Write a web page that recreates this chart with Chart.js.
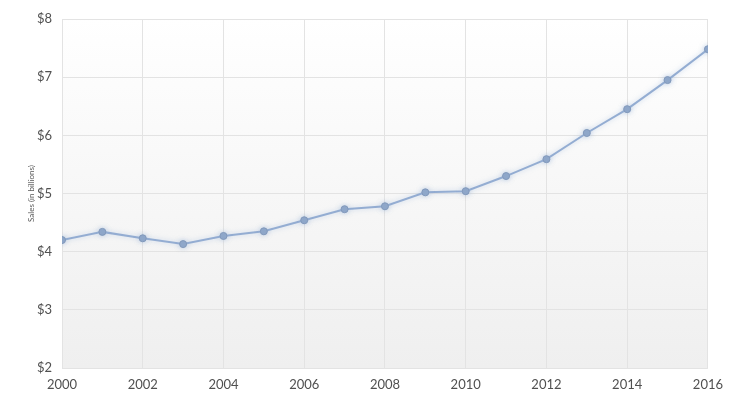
<!DOCTYPE html>
<html>
<head>
<meta charset="utf-8">
<script src="https://cdn.jsdelivr.net/npm/chart.js@4.4.1/dist/chart.umd.min.js"></script>
<style>
  html, body { margin: 0; padding: 0; background: #fff; }
  #wrap { width: 732px; height: 408px; position: relative; }
</style>
</head>
<body>
<div id="wrap"><canvas id="salesChart" width="732" height="408"></canvas></div>
<script>
// Sales by year (in billions of dollars)
const years = [2000, 2001, 2002, 2003, 2004, 2005, 2006, 2007, 2008, 2009, 2010, 2011, 2012, 2013, 2014, 2015, 2016]
const sales = [4.20, 4.34, 4.23, 4.13, 4.27, 4.35, 4.54, 4.73, 4.78, 5.02, 5.04, 5.30, 5.59, 6.04, 6.45, 6.95, 7.48]
const yRange = [2, 8]
const xStep = 2

// Plot area background: white fading into light grey
const plotBackground = {
  id: "plotBackground",
  beforeDraw(chart) {
    const { ctx, chartArea } = chart
    const grad = ctx.createLinearGradient(0, chartArea.top, 0, chartArea.bottom)
    grad.addColorStop(0, "#ffffff")
    grad.addColorStop(1, "#efefef")
    ctx.save()
    ctx.fillStyle = grad
    ctx.fillRect(chartArea.left, chartArea.top, chartArea.right - chartArea.left, chartArea.bottom - chartArea.top)
    ctx.restore()
  },
  // soft glow under the line
  beforeDatasetDraw(chart) {
    chart.ctx.save()
    chart.ctx.shadowColor = "rgba(150, 180, 220, 0.5)"
    chart.ctx.shadowBlur = 5
  },
  afterDatasetDraw(chart) {
    chart.ctx.restore()
  },
}

const ctx = document.getElementById("salesChart").getContext("2d")
new Chart(ctx, {
  type: "line",
  data: {
    datasets: [
      {
        label: "Sales",
        data: years.map((yr, i) => ({ x: yr, y: sales[i] })),
        borderColor: "#94add2",
        borderWidth: 2,
        pointRadius: 3.5,
        pointBackgroundColor: "#8ea6c8",
        pointBorderColor: "#8299bb",
        pointBorderWidth: 1,
        tension: 0,
        fill: false,
      },
    ],
  },
  options: {
    responsive: false,
    animation: false,
    layout: {
      padding: { top: 19, right: 24, bottom: 0, left: 0 },
    },
    plugins: {
      legend: { display: false },
      tooltip: { enabled: false },
    },
    scales: {
      x: {
        type: "linear",
        min: years[0],
        max: years[years.length - 1],
        afterFit(scale) {
          scale.height = 40
        },
        grid: { color: "#e3e3e3", drawTicks: false },
        border: { display: false },
        ticks: {
          stepSize: xStep,
          padding: 9,
          color: "#505050",
          font: { family: "Lato", size: 13 },
          callback: (v) => String(v),
        },
      },
      y: {
        min: yRange[0],
        max: yRange[1],
        afterFit(scale) {
          scale.width = 62
        },
        grid: { color: "#e3e3e3", drawTicks: false },
        border: { display: false },
        ticks: {
          stepSize: 1,
          padding: 10,
          color: "#505050",
          font: { family: "Lato", size: 13 },
          callback: (v) => "$" + v,
        },
        title: {
          display: true,
          text: "Sales (in billions)",
          color: "#595959",
          font: { family: "Lato", size: 8 },
          padding: { top: 27, bottom: 0 },
        },
      },
    },
  },
  plugins: [plotBackground],
})
</script>
</body>
</html>
